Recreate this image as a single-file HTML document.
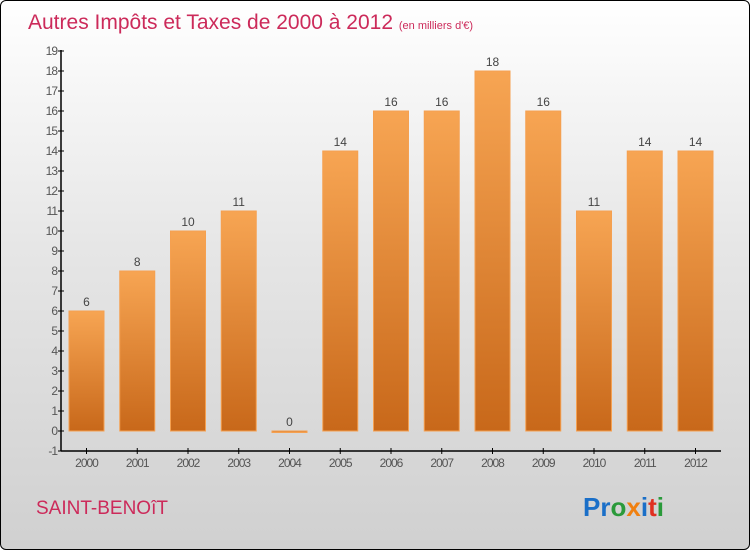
<!DOCTYPE html>
<html><head><meta charset="utf-8"><style>
body{margin:0;}
#c{position:relative;width:748px;height:548px;border:1px solid #000;border-radius:6px;overflow:hidden;background:linear-gradient(#ffffff,#e6e6e6 45%,#d0d0d0);font-family:"Liberation Sans",sans-serif;}
</style></head><body>
<div id="c">
<svg width="748" height="548" xmlns="http://www.w3.org/2000/svg">
<defs><linearGradient id="bg" x1="0" y1="0" x2="0" y2="1"><stop offset="0" stop-color="#f7a553"/><stop offset="1" stop-color="#c8681a"/></linearGradient></defs>
<text x="27" y="28" font-size="21" fill="#cc2a5a">Autres Impôts et Taxes de 2000 à 2012 <tspan font-size="11">(en milliers d'€)</tspan></text>
<g id="axes"></g><g id="bars"></g>
<text x="35" y="513" font-size="19" fill="#cc2a5a">SAINT-BENOîT</text>
<text x="582" y="515" font-size="26" font-weight="bold"><tspan fill="#1a6fc8">Pr</tspan><tspan fill="#2a9a3a">o</tspan><tspan fill="#f08010">x</tspan><tspan fill="#1a6fc8">i</tspan><tspan fill="#e03020">t</tspan><tspan fill="#2a9a3a">i</tspan></text>
</svg></div>
<script>
const years=["2000","2001","2002","2003","2004","2005","2006","2007","2008","2009","2010","2011","2012"];
const values=[6,8,10,11,0,14,16,16,18,16,11,14,14];
const yTicks=[-1,0,1,2,3,4,5,6,7,8,9,10,11,12,13,14,15,16,17,18,19];
const NS="http://www.w3.org/2000/svg";
const y=v=>430-v*20;
const x=i=>85.5+i*50.75;
const ax=document.getElementById('axes'),bg=document.getElementById('bars');
function mk(t,a,p){const e=document.createElementNS(NS,t);for(const k in a)e.setAttribute(k,a[k]);p.appendChild(e);return e;}
let l=mk('line',{x1:60,y1:49,x2:60,y2:450,stroke:'#000','stroke-width':1.5},ax);


l=mk('line',{x1:60,y1:450,x2:720,y2:450,stroke:'#000','stroke-width':1.5},ax);


yTicks.forEach(v=>{mk('line',{x1:57,x2:63,y1:y(v),y2:y(v),stroke:'#000'},ax);
const t=mk('text',{x:56,y:y(v)+4,'text-anchor':'end','font-size':12,fill:'#555','letter-spacing':'-1'},ax);t.textContent=v;

});
years.forEach((yr,i)=>{mk('line',{x1:x(i),x2:x(i),y1:447,y2:453,stroke:'#000'},ax);
const t=mk('text',{x:x(i),y:466,'text-anchor':'middle','font-size':12,fill:'#555','letter-spacing':'-1'},ax);t.textContent=yr;


const v=values[i];const top=y(v);
const r=mk('rect',{x:x(i)-17.5,y:top,width:35,height:Math.max(430-top,1.5),fill:'url(#bg)',stroke:'#f5a050','stroke-width':1},bg);


const lb=mk('text',{x:x(i),y:top-5,'text-anchor':'middle','font-size':12,fill:'#444'},bg);lb.textContent=v;

});
</script></body></html>
